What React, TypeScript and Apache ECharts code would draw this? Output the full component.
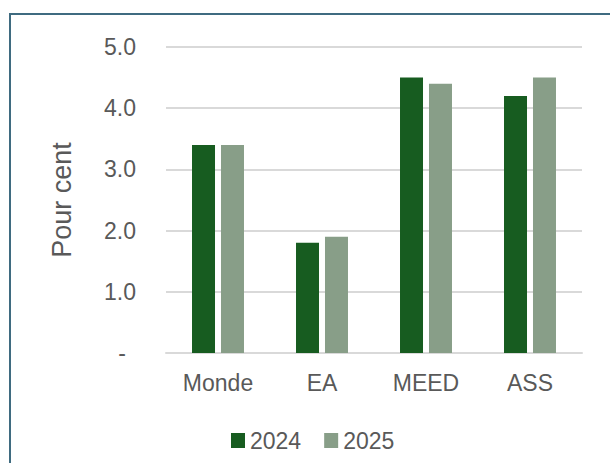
import React, { useEffect, useRef } from "react";
import * as echarts from "echarts";

const categories = ["Monde", "EA", "MEED", "ASS"];
const values2024 = [3.4, 1.8, 4.5, 4.2];
const values2025 = [3.4, 1.9, 4.4, 4.5];
const seriesNames = ["2024", "2025"];

const FONT = "'Liberation Sans', Arial, sans-serif";
const TEXT = "#595959";

export default function App() {
  const ref = useRef<HTMLDivElement>(null);
  useEffect(() => {
    const chart = echarts.init(ref.current!, null, { renderer: "svg" });
    chart.setOption({
      animation: false,
      backgroundColor: "#ffffff",
      textStyle: { fontFamily: FONT },
      grid: { left: 166, right: 28, top: 47, bottom: 110 },
      legend: {
        data: seriesNames,
        left: 231,
        top: 429,
        padding: 0,
        icon: "rect",
        itemWidth: 14,
        itemHeight: 15,
        itemGap: 23,
        textStyle: { color: TEXT, fontSize: 23, fontFamily: FONT },
      },
      xAxis: {
        type: "category",
        data: categories,
        axisLine: { lineStyle: { color: "#d9d9d9", width: 2 } },
        axisTick: { show: false },
        axisLabel: { color: TEXT, fontSize: 23, margin: 18, fontFamily: FONT },
      },
      yAxis: {
        type: "value",
        min: 0,
        max: 5,
        interval: 1,
        name: "Pour cent",
        nameLocation: "middle",
        nameGap: 91,
        nameTextStyle: { color: TEXT, fontSize: 27, fontFamily: FONT },
        axisLine: { show: false },
        axisTick: { show: false },
        splitLine: { lineStyle: { color: "#d9d9d9", width: 2 } },
        axisLabel: {
          color: TEXT,
          fontSize: 23,
          margin: 30,
          fontFamily: FONT,
          formatter: (v: number) => (v === 0 ? "{d|-}" : v.toFixed(1)),
          rich: { d: { color: TEXT, fontSize: 23, fontFamily: FONT, padding: [0, 10, 0, 0] } },
        },
      },
      series: [
        {
          name: seriesNames[0],
          type: "bar",
          data: values2024,
          barWidth: 23,
          barGap: "26%",
          itemStyle: { color: "#175c20" },
        },
        {
          name: seriesNames[1],
          type: "bar",
          data: values2025,
          barWidth: 23,
          itemStyle: { color: "#889e88" },
        },
      ],
      graphic: [
        {
          type: "line",
          shape: { x1: 9, y1: 14, x2: 610, y2: 14 },
          style: { stroke: "#3f6b80", lineWidth: 2 },
        },
        {
          type: "line",
          shape: { x1: 10, y1: 13, x2: 10, y2: 463 },
          style: { stroke: "#3f6b80", lineWidth: 2 },
        },
      ],
    });
    return () => chart.dispose();
  }, []);
  return (
    <div
      ref={ref}
      style={{ position: "fixed", left: 0, top: 0, width: 610, height: 463 }}
    />
  );
}
